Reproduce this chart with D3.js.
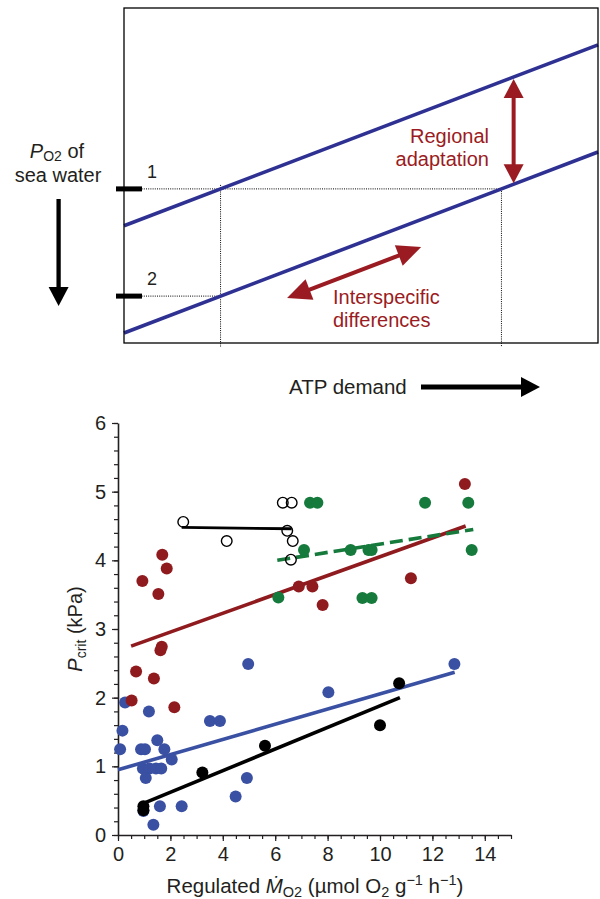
<!DOCTYPE html>
<html>
<head>
<meta charset="utf-8">
<script src="https://d3js.org/d3.v7.min.js"></script>
<style>
  body { margin: 0; background: #fff; }
  text { font-family: "Liberation Sans", Arial, sans-serif; fill: #231f20; }
</style>
</head>
<body>
<div id="chart"></div>
<script>
// ---- schematic (top panel), arbitrary units 0-100 ----
var upperLine = [[0, 35], [100, 89]];
var lowerLine = [[0, 3], [100, 57]];
var levels = [46, 14];          // PO2 levels 1 and 2
var levelLabels = ["1", "2"];

// ---- scatter (bottom panel) ----
var blueX = [0.27, 1.18, 0.17, 0.08, 0.88, 1.03, 1.50, 1.77, 2.05, 0.95, 1.2, 1.45, 1.65, 1.06, 0.97, 1.60, 2.43, 1.35, 3.51, 3.89, 4.49, 4.92, 4.97, 8.03, 12.84];
var blueY = [1.93, 1.80, 1.52, 1.25, 1.25, 1.25, 1.38, 1.25, 1.10, 0.97, 0.97, 0.97, 0.97, 0.83, 0.35, 0.42, 0.42, 0.15, 1.66, 1.66, 0.56, 0.83, 2.49, 2.08, 2.49];
var redX = [1.69, 1.86, 0.93, 1.54, 1.67, 1.62, 0.69, 1.37, 0.52, 2.15, 13.24, 11.18, 6.90, 7.42, 7.81];
var redY = [4.08, 3.88, 3.70, 3.51, 2.74, 2.69, 2.38, 2.28, 1.96, 1.86, 5.11, 3.74, 3.62, 3.62, 3.35];
var greenX = [7.33, 7.61, 11.72, 13.37, 7.10, 8.88, 9.56, 9.68, 13.50, 9.33, 9.68, 6.12];
var greenY = [4.84, 4.84, 4.84, 4.84, 4.15, 4.15, 4.15, 4.15, 4.15, 3.45, 3.45, 3.46];
var openX = [2.49, 4.15, 6.29, 6.63, 6.46, 6.67, 6.60];
var openY = [4.56, 4.28, 4.84, 4.84, 4.43, 4.28, 4.01];
var blackX = [0.97, 0.97, 3.22, 5.61, 10.00, 10.73];
var blackY = [0.42, 0.36, 0.91, 1.30, 1.60, 2.21];

var blueFit = [[0, 0.95], [12.85, 2.37]];
var redFit = [[0.5, 2.75], [13.27, 4.50]];
var greenFit = [[6.08, 4.0], [13.56, 4.45]];
var openFit = [[2.43, 4.48], [6.63, 4.46]];
var blackFit = [[0.97, 0.46], [10.76, 2.0]];

var xTicks = [0, 2, 4, 6, 8, 10, 12, 14];
var yTicks = [0, 1, 2, 3, 4, 5, 6];

var navy = "#2e3192", darkRed = "#9b1b22";
var cBlue = "#3a50a2", cRed = "#8f1b1f", cGreen = "#167a3c";

var svg = d3.select("#chart").append("svg")
  .attr("width", 600).attr("height", 899);

// ================= top panel =================
var tx = d3.scaleLinear().domain([0, 100]).range([124, 598]);
var ty = d3.scaleLinear().domain([0, 100]).range([343, 8]);

function xOn(line, yv) {   // x where a line reaches a given level
  var s = (line[1][1] - line[0][1]) / (line[1][0] - line[0][0]);
  return line[0][0] + (yv - line[0][1]) / s;
}
function yOn(line, xv) {
  var s = (line[1][1] - line[0][1]) / (line[1][0] - line[0][0]);
  return line[0][1] + (xv - line[0][0]) * s;
}

function head(g, x, y, ang, len, hw, col) {
  var c = Math.cos(ang), s = Math.sin(ang);
  var bx = x - c * len, by = y - s * len;
  g.append("path")
    .attr("d", "M" + x + "," + y + "L" + (bx - s * hw) + "," + (by + c * hw) +
               "L" + (bx + s * hw) + "," + (by - c * hw) + "Z")
    .attr("fill", col);
}
function arrow(g, x1, y1, x2, y2, w, len, hw, col, both) {
  var ang = Math.atan2(y2 - y1, x2 - x1);
  var c = Math.cos(ang), s = Math.sin(ang);
  g.append("line")
    .attr("x1", both ? x1 + c * len * 0.8 : x1).attr("y1", both ? y1 + s * len * 0.8 : y1)
    .attr("x2", x2 - c * len * 0.8).attr("y2", y2 - s * len * 0.8)
    .attr("stroke", col).attr("stroke-width", w);
  head(g, x2, y2, ang, len, hw, col);
  if (both) head(g, x1, y1, ang + Math.PI, len, hw, col);
}

var panel = svg.append("g");

// dotted guides
var x1a = xOn(upperLine, levels[0]), x1b = xOn(lowerLine, levels[0]), x2a = xOn(lowerLine, levels[1]);
var dots = [
  [tx(0), ty(levels[0]), tx(x1b), ty(levels[0])],
  [tx(0), ty(levels[1]), tx(x2a), ty(levels[1])],
  [tx(x1a), ty(levels[0]) - 4, tx(x1a), ty(0) + 4],
  [tx(x1b), ty(levels[0]), tx(x1b), ty(0) + 4]
];
panel.selectAll("line.dot").data(dots).enter().append("line")
  .attr("x1", function(d) { return d[0]; }).attr("y1", function(d) { return d[1]; })
  .attr("x2", function(d) { return d[2]; }).attr("y2", function(d) { return d[3]; })
  .attr("stroke", "#000").attr("stroke-width", 1).attr("stroke-dasharray", "1,1.2");

// the two lines
panel.selectAll("line.blue").data([upperLine, lowerLine]).enter().append("line")
  .attr("x1", function(d) { return tx(d[0][0]); }).attr("y1", function(d) { return ty(d[0][1]); })
  .attr("x2", function(d) { return tx(d[1][0]); }).attr("y2", function(d) { return ty(d[1][1]); })
  .attr("stroke", navy).attr("stroke-width", 3.6);

// frame
panel.append("rect")
  .attr("x", tx(0)).attr("y", ty(100))
  .attr("width", tx(100) - tx(0)).attr("height", ty(0) - ty(100))
  .attr("fill", "none").attr("stroke", "#000").attr("stroke-width", 1.3);

// level ticks + labels
levels.forEach(function(l, i) {
  panel.append("rect").attr("x", tx(0) - 8).attr("y", ty(l) - 2.5)
    .attr("width", 26).attr("height", 5).attr("fill", "#000");
  panel.append("text").attr("x", 152).attr("y", ty(l) - 11)
    .attr("text-anchor", "middle").style("font-size", "18px").text(levelLabels[i]);
});

// left label
var lab = panel.append("text").attr("x", 57).attr("y", 158).attr("text-anchor", "middle")
  .style("font-size", "20px");
lab.append("tspan").style("font-style", "italic").text("P");
lab.append("tspan").attr("dy", 3).style("font-size", "14px").text("O2");
lab.append("tspan").attr("dy", -3).text(" of");
panel.append("text").attr("x", 58).attr("y", 182).attr("text-anchor", "middle")
  .style("font-size", "20px").text("sea water");
arrow(panel, 58.6, 199, 58.6, 306, 4.3, 19, 10, "#000", false);

// regional adaptation arrow
var ax = 82.2;
arrow(panel, tx(ax), ty(yOn(upperLine, ax)) + 2, tx(ax), ty(yOn(lowerLine, ax)) - 1, 4, 19, 10, darkRed, true);
panel.append("text").attr("x", 489).attr("y", 143).attr("text-anchor", "end")
  .style("font-size", "20px").style("fill", darkRed).text("Regional");
panel.append("text").attr("x", 489).attr("y", 166).attr("text-anchor", "end")
  .style("font-size", "20px").style("fill", darkRed).text("adaptation");

// interspecific arrow (parallel to the lines)
arrow(panel, tx(34.4), ty(13.4), tx(62.7), ty(13.4 + (62.7 - 34.4) * 0.54), 4, 24, 11, darkRed, true);
panel.append("text").attr("x", 333).attr("y", 304)
  .style("font-size", "20px").style("fill", darkRed).text("Interspecific");
panel.append("text").attr("x", 333).attr("y", 327)
  .style("font-size", "20px").style("fill", darkRed).text("differences");

// ATP demand
panel.append("text").attr("x", 289).attr("y", 394).style("font-size", "20.5px").text("ATP demand");
arrow(panel, 421, 387, 540, 387, 5, 19, 10, "#000", false);

// ================= bottom panel =================
var x = d3.scaleLinear().domain([0, 15]).range([118, 511]);
var y = d3.scaleLinear().domain([0, 6]).range([835, 423]);

var g = svg.append("g");

function minor(step, max) { return d3.range(0, max + 1e-9, step); }

g.append("g").attr("transform", "translate(0,835)")
  .call(d3.axisBottom(x).tickValues(minor(0.5, 15)).tickSize(4).tickFormat(""))
  .call(function(a) { a.select(".domain").remove(); });
g.append("g").attr("transform", "translate(118,0)")
  .call(d3.axisLeft(y).tickValues(minor(0.2, 6)).tickSize(4).tickFormat(""))
  .call(function(a) { a.select(".domain").remove(); });

var xa = g.append("g").attr("transform", "translate(0,835)")
  .call(d3.axisBottom(x).tickValues(xTicks).tickFormat(d3.format("d"))
    .tickSize(6).tickSizeOuter(0).tickPadding(6));
var ya = g.append("g").attr("transform", "translate(118,0)")
  .call(d3.axisLeft(y).tickValues(yTicks).tickFormat(d3.format("d"))
    .tickSize(6).tickSizeOuter(0).tickPadding(6));
[xa, ya].forEach(function(a) {
  a.selectAll("text").style("font-size", "20px").style("font-family", "Liberation Sans, Arial, sans-serif").attr("fill", "#231f20");
  a.select(".domain").attr("stroke", "#231f20").attr("stroke-width", 1.6);
});
g.selectAll(".tick line").attr("stroke", "#231f20").attr("stroke-width", 1.2);

// fit lines
var fits = [
  { d: blueFit, c: cBlue, dash: null },
  { d: blackFit, c: "#000", dash: null },
  { d: redFit, c: cRed, dash: null },
  { d: greenFit, c: cGreen, dash: "13,6" },
  { d: openFit, c: "#000", dash: null }
];
g.selectAll("line.fit").data(fits).enter().append("line")
  .attr("x1", function(f) { return x(f.d[0][0]); }).attr("y1", function(f) { return y(f.d[0][1]); })
  .attr("x2", function(f) { return x(f.d[1][0]); }).attr("y2", function(f) { return y(f.d[1][1]); })
  .attr("stroke", function(f) { return f.c; })
  .attr("stroke-width", function(f) { return f.d === openFit ? 2.8 : 3.6; })
  .attr("stroke-dasharray", function(f) { return f.dash; });

function pts(xs, ys) { return xs.map(function(v, i) { return [v, ys[i]]; }); }
function dotsOf(data, fill, stroke) {
  g.append("g").selectAll("circle").data(data).enter().append("circle")
    .attr("cx", function(d) { return x(d[0]); })
    .attr("cy", function(d) { return y(d[1]); })
    .attr("r", stroke ? 5.3 : 6)
    .attr("fill", fill)
    .attr("stroke", stroke || "none")
    .attr("stroke-width", 1.4);
}
dotsOf(pts(blueX, blueY), cBlue);
dotsOf(pts(redX, redY), cRed);
dotsOf(pts(greenX, greenY), cGreen);
dotsOf(pts(openX, openY), "none", "#000");
dotsOf(pts(blackX, blackY), "#000");

// axis titles
var xt = g.append("text").attr("x", 315).attr("y", 893).attr("text-anchor", "middle")
  .style("font-size", "20.5px");
xt.append("tspan").text("Regulated ");
xt.append("tspan").style("font-style", "italic").text("M\u0307");
xt.append("tspan").attr("dy", 4).style("font-size", "14.5px").text("O2");
xt.append("tspan").attr("dy", -4).text(" (\u00b5mol O");
xt.append("tspan").attr("dy", 4).style("font-size", "14.5px").text("2");
xt.append("tspan").attr("dy", -4).text(" g");
xt.append("tspan").attr("dy", -8).style("font-size", "14.5px").text("\u22121");
xt.append("tspan").attr("dy", 8).text(" h");
xt.append("tspan").attr("dy", -8).style("font-size", "14.5px").text("\u22121");
xt.append("tspan").attr("dy", 8).text(")");

var yt = g.append("text").attr("transform", "translate(82,629) rotate(-90)")
  .attr("text-anchor", "middle").style("font-size", "20px");
yt.append("tspan").style("font-style", "italic").text("P");
yt.append("tspan").attr("dy", 4).style("font-size", "14px").text("crit");
yt.append("tspan").attr("dy", -4).text(" (kPa)");
</script>
</body>
</html>
